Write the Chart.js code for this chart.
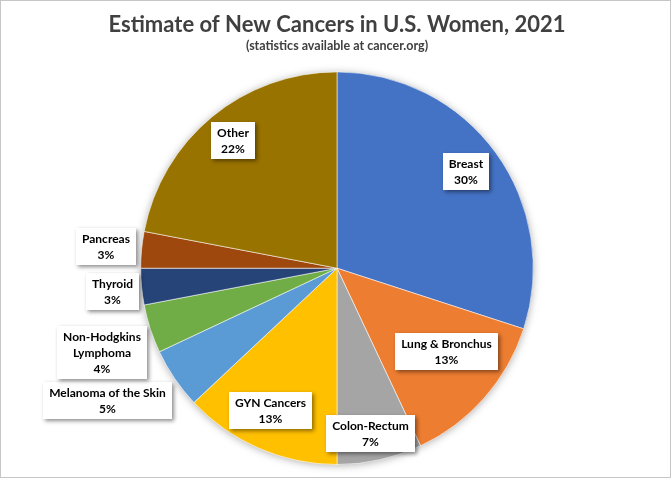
<!DOCTYPE html>
<html>
<head>
<meta charset="utf-8">
<script src="https://cdn.jsdelivr.net/npm/chart.js@4.4.1/dist/chart.umd.min.js"></script>
<style>
  html, body { margin: 0; padding: 0; background: #ffffff; }
  canvas { display: block; }
</style>
</head>
<body>
<canvas id="c" width="672" height="479"></canvas>
<script>
// ---- data ----
const categories = ['Breast', 'Lung & Bronchus', 'Colon-Rectum', 'GYN Cancers', 'Melanoma of the Skin', ['Non-Hodgkins', 'Lymphoma'], 'Thyroid', 'Pancreas', 'Other'];
const percents = [30, 13, 7, 13, 5, 4, 3, 3, 22];
const sliceColors = ['#4472C4', '#ED7D31', '#A5A5A5', '#FFC000', '#5B9BD5', '#70AD47', '#264478', '#9E480E', '#997300'];
const titleText = 'Estimate of New Cancers in U.S. Women, 2021';
const subtitleText = '(statistics available at cancer.org)';

// label placement along each slice's mid-angle: [radius factor, angle shift in degrees]
const labelPlacement = [[0.82, -1], [0.70, -4], [0.86, 1], [0.80, 1.5], [1.35, 4.3], [1.27, -1.7], [1.15, -0.5], [1.18, 0], [0.84, 0.3]];

const FONT = 'Lato, "Open Sans", sans-serif';

const pieShadow = {
  id: 'pieShadow',
  beforeDatasetsDraw(chart) {
    const arc = chart.getDatasetMeta(0).data[0];
    if (!arc) return;
    const { x, y, outerRadius } = arc.getProps(['x', 'y', 'outerRadius'], true);
    const ctx = chart.ctx;
    ctx.save();
    ctx.shadowColor = 'rgba(0,0,0,0.35)';
    ctx.shadowBlur = 9;
    ctx.shadowOffsetX = 0;
    ctx.shadowOffsetY = 1;
    ctx.fillStyle = '#ffffff';
    ctx.beginPath();
    ctx.arc(x, y, outerRadius - 0.5, 0, Math.PI * 2);
    ctx.fill();
    ctx.restore();
  }
};

const boxLabels = {
  id: 'boxLabels',
  afterDatasetsDraw(chart) {
    const ctx = chart.ctx;
    const meta = chart.getDatasetMeta(0);
    ctx.save();
    ctx.font = 'bold 12px ' + FONT;
    ctx.textAlign = 'center';
    ctx.textBaseline = 'middle';
    meta.data.forEach((arc, i) => {
      const p = arc.getProps(['x', 'y', 'startAngle', 'endAngle', 'outerRadius'], true);
      const [f, shift] = labelPlacement[i];
      const mid = (p.startAngle + p.endAngle) / 2 + shift * Math.PI / 180;
      const cx = p.x + Math.cos(mid) * p.outerRadius * f;
      const cy = p.y + Math.sin(mid) * p.outerRadius * f;
      const name = categories[i];
      const lines = (Array.isArray(name) ? name.slice() : [name]);
      lines.push(percents[i] + '%');
      const lh = 16;
      let w = 0;
      lines.forEach(l => { w = Math.max(w, ctx.measureText(l).width); });
      const bw = Math.round(w + 12);
      const bh = lines.length * lh + 5;
      const bx = Math.round(cx - bw / 2);
      const by = Math.round(cy - bh / 2);
      ctx.save();
      ctx.shadowColor = 'rgba(0,0,0,0.45)';
      ctx.shadowBlur = 4;
      ctx.shadowOffsetX = 2;
      ctx.shadowOffsetY = 2;
      ctx.fillStyle = '#ffffff';
      ctx.fillRect(bx, by, bw, bh);
      ctx.restore();
      ctx.fillStyle = '#000000';
      lines.forEach((l, k) => {
        ctx.fillText(l, bx + bw / 2, by + 3 + lh / 2 + k * lh);
      });
    });
    ctx.restore();
  }
};

const frame = {
  id: 'frame',
  afterDraw(chart) {
    const ctx = chart.ctx;
    ctx.save();
    ctx.strokeStyle = '#c6c6c6';
    ctx.lineWidth = 1;
    ctx.strokeRect(0.5, 0.5, 670, 477);
    ctx.restore();
  }
};

new Chart(document.getElementById('c'), {
  type: 'pie',
  data: {
    labels: categories,
    datasets: [{
      data: percents,
      backgroundColor: sliceColors,
      borderColor: 'rgba(255,255,255,0.55)',
      borderWidth: 1
    }]
  },
  options: {
    responsive: false,
    animation: false,
    layout: { padding: { top: 0, left: 2, right: 0, bottom: 14 } },
    plugins: {
      legend: { display: false },
      tooltip: { enabled: false },
      title: {
        display: true,
        text: titleText,
        color: '#404040',
        font: { family: FONT, size: 22, weight: 'bold' },
        padding: { top: 12, bottom: 0 }
      },
      subtitle: {
        display: true,
        text: subtitleText,
        color: '#404040',
        font: { family: FONT, size: 12.5, weight: 'bold' },
        padding: { top: 0.5, bottom: 17.5 }
      }
    }
  },
  plugins: [pieShadow, boxLabels, frame]
});
</script>
</body>
</html>
